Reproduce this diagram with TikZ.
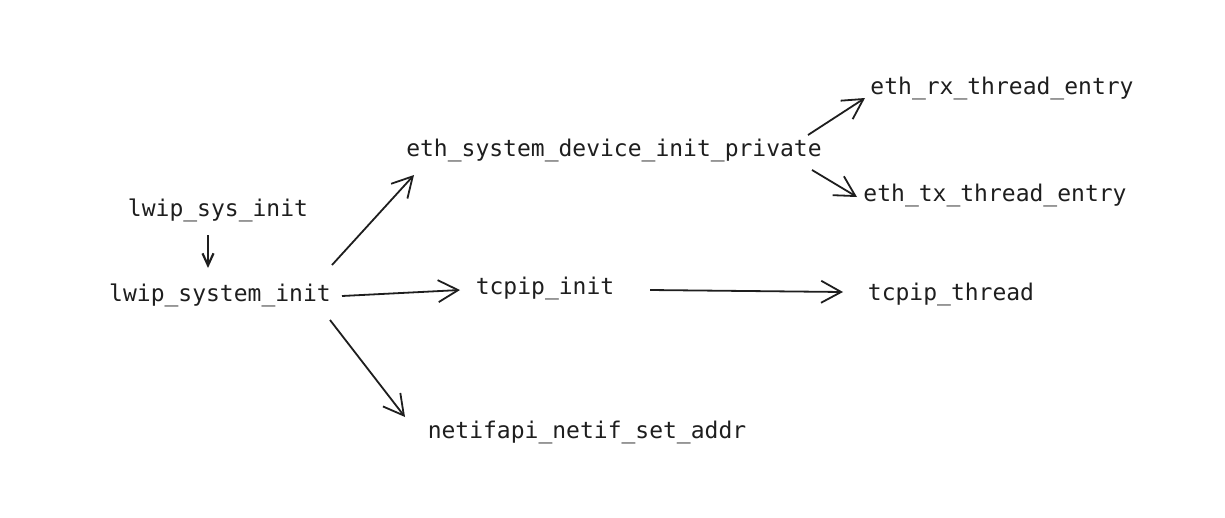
\documentclass[tikz,border=0pt]{standalone}
\usepackage{fontspec}
\setmonofont{DejaVu Sans Mono}
\usetikzlibrary{arrows.meta}
\definecolor{ink}{HTML}{1E1E1E}
\begin{document}
\begin{tikzpicture}[x=1pt, y=-1pt,
    fn/.style = {inner sep=0pt, text=ink, font=\ttfamily\fontsize{23}{24}\selectfont},
    call/.style = {draw=ink, line width=1.8pt, -{Straight Barb[length=20pt, width=22pt, line width=1.8pt]}},
    short/.style = {draw=ink, line width=2.2pt, -{Straight Barb[length=12pt, width=11pt, line width=2.2pt]}}]
            \useasboundingbox (0,0) rectangle (1225,517);

            \node[fn] (lss) at (218,210) {lwip\_sys\_init};
            \node[fn] (lsys) at (220,295) {lwip\_system\_init};
            \node[fn] (eth) at (614,150) {eth\_system\_device\_init\_private};
            \node[fn] (tcp) at (545,288) {tcpip\_init};
            \node[fn] (netif) at (587,432) {netifapi\_netif\_set\_addr};
            \node[fn] (rx) at (1002,88) {eth\_rx\_thread\_entry};
            \node[fn] (tx) at (995,195) {eth\_tx\_thread\_entry};
            \node[fn] (thr) at (951,294) {tcpip\_thread};

            \draw[short] ([shift={(-10,25)}]lss.center) -- ([shift={(-12,-27)}]lsys.center);
            \draw[call] ([shift={(112,-30)}]lsys.center) -- ([shift={(-200,25)}]eth.center);
            \draw[call] ([shift={(122,1)}]lsys.center) -- ([shift={(-85,2)}]tcp.center);
            \draw[call] ([shift={(110,25)}]lsys.center) -- ([shift={(-182,-15)}]netif.center);
            \draw[call] ([shift={(105,2)}]tcp.center) -- ([shift={(-108,-2)}]thr.center);
            \draw[call] ([shift={(194,-15)}]eth.center) -- ([shift={(-137,10)}]rx.center);
            \draw[call] ([shift={(198,20)}]eth.center) -- ([shift={(-138,2)}]tx.center);
        \end{tikzpicture}
\end{document}
